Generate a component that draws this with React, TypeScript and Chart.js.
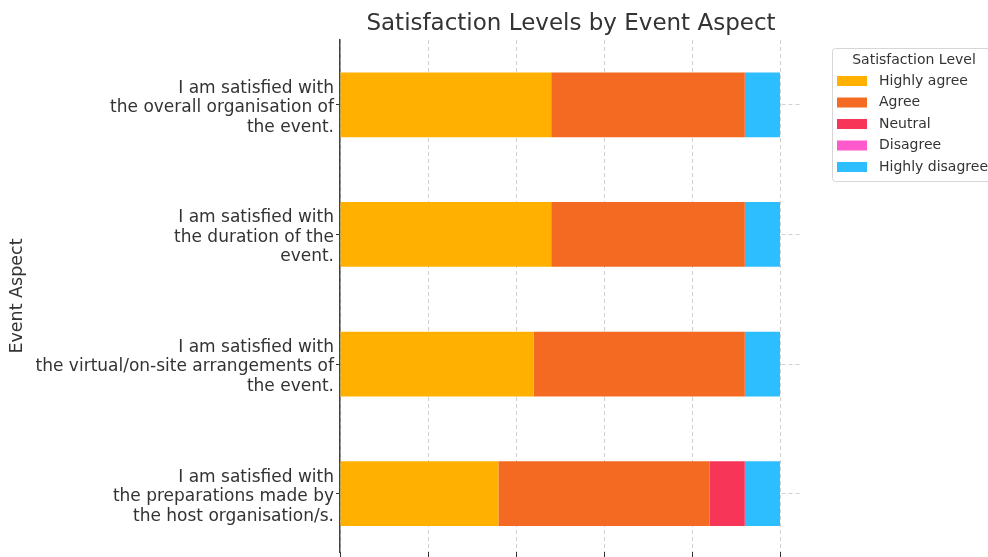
import React, { useEffect, useRef } from "react";
import { Chart, registerables } from "chart.js";
Chart.register(...registerables);

const categories: string[][] = [
  ["I am satisfied with", "the overall organisation of", "the event."],
  ["I am satisfied with", "the duration of the", "event."],
  ["I am satisfied with", "the virtual/on-site arrangements of", "the event."],
  ["I am satisfied with", "the preparations made by", "the host organisation/s."],
];
const levels = ["Highly agree", "Agree", "Neutral", "Disagree", "Highly disagree"];
const levelColors = ["#FFB000", "#F46A22", "#F73558", "#FF5ACD", "#2CBEFF"];
const highlyAgree = [12, 12, 11, 9];
const agree = [11, 11, 12, 12];
const neutral = [0, 0, 0, 2];
const disagree = [0, 0, 0, 0];
const highlyDisagree = [2, 2, 2, 2];
const xTicks = [0, 5, 10, 15, 20, 25];
const chartTitle = "Satisfaction Levels by Event Aspect";
const yTitle = "Event Aspect";
const legendTitle = "Satisfaction Level";

const FONT = "'DejaVu Sans', sans-serif";
const TEXT = "#333333";

const overlayPlugin = {
  id: "overlay",
  afterDraw(chart: any) {
    const { ctx, chartArea } = chart;
    ctx.save();
    // title
    ctx.fillStyle = TEXT;
    ctx.font = `23px ${FONT}`;
    ctx.textAlign = "center";
    ctx.textBaseline = "middle";
    ctx.fillText(chartTitle, (chartArea.left + chartArea.right) / 2, 24);
    // legend
    const lx = 832.5, ly = 48.5, lw = 170, lh = 133;
    ctx.beginPath();
    ctx.roundRect(lx, ly, lw, lh, 3);
    ctx.fillStyle = "rgba(255,255,255,0.85)";
    ctx.fill();
    ctx.strokeStyle = "#d6d6d6";
    ctx.lineWidth = 1;
    ctx.stroke();
    ctx.fillStyle = TEXT;
    ctx.font = `14px ${FONT}`;
    ctx.textAlign = "center";
    ctx.fillText(legendTitle, 914, 60);
    const datasets = chart.data.datasets;
    datasets.forEach((ds: any, i: number) => {
      const cy = 81 + i * 21.5;
      ctx.fillStyle = ds.backgroundColor;
      ctx.fillRect(837, cy - 5, 30, 10);
      ctx.fillStyle = TEXT;
      ctx.textAlign = "left";
      ctx.fillText(ds.label, 879, cy);
    });
    ctx.restore();
  },
};

export default function App() {
  const ref = useRef<HTMLCanvasElement | null>(null);
  useEffect(() => {
    if (!ref.current) return;
    const series = [highlyAgree, agree, neutral, disagree, highlyDisagree];
    const chart = new Chart(ref.current, {
      type: "bar",
      data: {
        datasets: series.map((vals, si) => ({
          label: levels[si],
          data: vals.map((v, i) => ({ x: v, y: i })),
          backgroundColor: levelColors[si],
          borderWidth: 0,
          barPercentage: 0.5,
          categoryPercentage: 1,
        })),
      },
      options: {
        indexAxis: "y",
        animation: false,
        responsive: false,
        devicePixelRatio: 1,
        layout: { padding: { top: 40, right: 186, bottom: 0, left: 0 } },
        plugins: { legend: { display: false }, title: { display: false }, tooltip: { enabled: false } },
        scales: {
          x: {
            type: "linear",
            stacked: true,
            min: 0,
            max: 26.25,
            z: 1,
            offset: false,
            afterBuildTicks: (s: any) => {
              s.ticks = xTicks.map((v) => ({ value: v }));
            },
            afterFit: (s: any) => {
              s.paddingLeft = 0;
              s.paddingRight = 0;
            },
            ticks: { display: false },
            grid: {
              offset: false,
              color: "rgba(170,170,170,0.55)",
              lineWidth: 1,
              drawTicks: true,
              tickLength: 5,
              tickColor: "#333333",
              tickWidth: 1,
            },
            border: { display: false, dash: [4, 3] },
          },
          y: {
            type: "linear",
            stacked: true,
            reverse: true,
            offset: false,
            min: -0.5,
            max: 3.45,
            afterBuildTicks: (s: any) => {
              s.ticks = categories.map((_, i) => ({ value: i }));
            },
            afterFit: (s: any) => {
              s.width = 340;
              s.paddingTop = 0;
              s.paddingBottom = 0;
            },
            ticks: {
              autoSkip: false,
              padding: 2,
              labelOffset: 3,
              color: TEXT,
              font: { family: FONT, size: 17, lineHeight: 1.15 },
              callback: (v: any) => categories[v as number] ?? "",
            },
            grid: {
              offset: false,
              color: "rgba(190,190,190,0.7)",
              drawTicks: true,
              tickLength: 4,
              tickColor: "#333333",
            },
            border: { display: true, color: "#444444", width: 1.5, dash: [4, 3] },
            title: {
              display: true,
              text: yTitle,
              color: TEXT,
              font: { family: FONT, size: 17.5 },
              padding: { top: 7, bottom: 0 },
            },
          },
        },
      },
      plugins: [overlayPlugin],
    } as any);
    return () => chart.destroy();
  }, []);
  return (
    <div style={{ position: "absolute", left: 0, top: 0, width: 988, height: 557, background: "#fff" }}>
      <canvas ref={ref} width={988} height={557} />
    </div>
  );
}
